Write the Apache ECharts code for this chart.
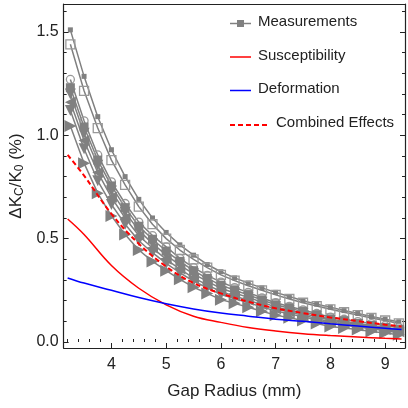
<!DOCTYPE html>
<html>
<head>
<meta charset="utf-8">
<script src="https://cdn.jsdelivr.net/npm/echarts@6/dist/echarts.min.js"></script>
<style>html,body{margin:0;padding:0;background:#fff;}#c{width:408px;height:408px;}</style>
</head>
<body>
<div id="c"></div>
<script>
// Measurement x positions (mm)
const xMeas = [3.25,3.5,3.75,4.0,4.25,4.5,4.75,5.0,5.25,5.5,5.75,6.0,6.25,6.5,6.75,7.0,7.25,7.5,7.75,8.0,8.25,8.5,8.75,9.0,9.25];
// Measurement series (%)
const meas1 = [1.51,1.285,1.09,0.93,0.80,0.69,0.60,0.53,0.47,0.42,0.375,0.34,0.31,0.285,0.262,0.24,0.22,0.2,0.183,0.168,0.152,0.138,0.123,0.11,0.098];
const meas2 = [1.44,1.215,1.035,0.88,0.76,0.655,0.57,0.5,0.445,0.4,0.36,0.325,0.297,0.272,0.25,0.228,0.208,0.19,0.174,0.158,0.144,0.13,0.116,0.104,0.09];
const meas3 = [1.27,1.07,0.905,0.775,0.67,0.58,0.515,0.46,0.405,0.36,0.322,0.29,0.263,0.24,0.213,0.19,0.172,0.155,0.138,0.12,0.11,0.099,0.089,0.079,0.07];
const meas4 = [1.23,1.04,0.88,0.755,0.65,0.56,0.497,0.44,0.39,0.345,0.308,0.275,0.25,0.228,0.203,0.18,0.163,0.147,0.13,0.11,0.101,0.09,0.08,0.07,0.06];
const meas5 = [1.2,1.01,0.855,0.73,0.628,0.54,0.477,0.42,0.372,0.33,0.293,0.26,0.237,0.216,0.192,0.17,0.154,0.138,0.122,0.105,0.096,0.085,0.075,0.065,0.055];
const meas6 = [1.16,0.975,0.82,0.70,0.6,0.515,0.455,0.40,0.353,0.31,0.276,0.245,0.222,0.202,0.18,0.16,0.145,0.13,0.114,0.097,0.088,0.078,0.069,0.06,0.05];
const meas7 = [1.12,0.935,0.78,0.665,0.57,0.49,0.432,0.38,0.335,0.295,0.262,0.23,0.21,0.19,0.17,0.15,0.136,0.122,0.106,0.09,0.082,0.073,0.064,0.055,0.045];
const meas8 = [1.045,0.865,0.72,0.61,0.52,0.445,0.39,0.345,0.303,0.265,0.235,0.205,0.187,0.168,0.149,0.13,0.117,0.104,0.09,0.075,0.068,0.06,0.051,0.043,0.035];
// Model curves
const xModel = [3.2,3.5,4.0,4.5,5.0,5.5,6.0,6.5,7.0,7.5,8.0,8.5,9.0,9.3];
const susceptibility = [0.595,0.52,0.37,0.26,0.18,0.125,0.095,0.07,0.053,0.04,0.031,0.024,0.018,0.015];
const deformation = [0.31,0.285,0.25,0.215,0.185,0.16,0.14,0.125,0.11,0.1,0.088,0.077,0.066,0.06];
const combined = [0.905,0.805,0.62,0.475,0.365,0.285,0.235,0.195,0.163,0.14,0.119,0.101,0.084,0.075];
// Ticks
const xMajorTicks = [4,5,6,7,8,9];
const xMinorTicks = [3.2,3.4,3.6,3.8,4.2,4.4,4.6,4.8,5.2,5.4,5.6,5.8,6.2,6.4,6.6,6.8,7.2,7.4,7.6,7.8,8.2,8.4,8.6,8.8,9.2];
const yMajorTicks = [0,0.5,1.0,1.5];
const yMinorTicks = [0.1,0.2,0.3,0.4,0.6,0.7,0.8,0.9,1.1,1.2,1.3,1.4,1.6];
// Legend labels
const legendNames = ['Measurements', 'Susceptibility', 'Deformation', 'Combined Effects'];

const GRAY = '#808080';
const FONT = 'Liberation Sans, Arial, sans-serif';
const pairs = (xs, ys) => xs.map((x, i) => [x, ys[i]]);

const measStyles = [
  {data: meas1, symbol: 'rect', size: 5, fill: GRAY, rot: 0},
  {data: meas2, symbol: 'rect', size: 9, fill: 'none', rot: 0},
  {data: meas3, symbol: 'circle', size: 8, fill: 'none', rot: 0},
  {data: meas4, symbol: 'rect', size: 9, fill: GRAY, rot: 0},
  {data: meas5, symbol: 'triangle', size: 11, fill: GRAY, rot: 180},
  {data: meas6, symbol: 'triangle', size: 11, fill: GRAY, rot: 90},
  {data: meas7, symbol: 'triangle', size: 11, fill: GRAY, rot: 180},
  {data: meas8, symbol: 'triangle', size: 12, fill: GRAY, rot: -90}
];

const series = measStyles.map(m => ({
  name: legendNames[0], type: 'line', data: pairs(xMeas, m.data),
  symbol: m.symbol, symbolSize: m.size, symbolRotate: m.rot, showSymbol: true,
  lineStyle: {color: GRAY, width: 1.5},
  itemStyle: m.fill === 'none'
    ? {color: 'rgba(255,255,255,0)', borderColor: '#999', borderWidth: 1.3}
    : {color: m.fill, borderWidth: 0},
  z: 2, animation: false
}));
series.push({name: legendNames[1], type: 'line', data: pairs(xModel, susceptibility), smooth: 0.4, symbol: 'none',
  lineStyle: {color: '#ff0000', width: 1.5}, z: 5, animation: false});
series.push({name: legendNames[2], type: 'line', data: pairs(xModel, deformation), smooth: 0.4, symbol: 'none',
  lineStyle: {color: '#0000ff', width: 1.5}, z: 5, animation: false});
series.push({name: legendNames[3], type: 'line', data: pairs(xModel, combined), smooth: 0.4, symbol: 'none',
  lineStyle: {color: '#ff0000', width: 2, type: [5, 3]}, z: 6, animation: false});

const XMIN = 3.127, XMAX = 9.363, YMIN = -0.029, YMAX = 1.635;
const axisLine = {show: true, onZero: false, lineStyle: {color: '#222', width: 1.2}};
const txt = (x, y, s) => ({type: 'text', left: x, top: y, style: {text: s, font: '15px ' + FONT, fill: '#222'}, z: 20});

const chart = echarts.init(document.getElementById('c'), null, {renderer: 'canvas'});
chart.setOption({
  animation: false,
  backgroundColor: '#fff',
  grid: {left: 62, right: 3, top: 4, bottom: 60},
  graphic: [
    {type: 'line', shape: {x1: 230, y1: 23.5, x2: 251, y2: 23.5}, style: {stroke: GRAY, lineWidth: 1.5}, z: 20},
    {type: 'rect', shape: {x: 237, y: 20, width: 7, height: 7}, style: {fill: GRAY}, z: 20},
    txt(258, 14, legendNames[0]),
    {type: 'line', shape: {x1: 230, y1: 57, x2: 251, y2: 57}, style: {stroke: '#ff0000', lineWidth: 1.5}, z: 20},
    txt(258, 48, legendNames[1]),
    {type: 'line', shape: {x1: 230, y1: 90.5, x2: 251, y2: 90.5}, style: {stroke: '#0000ff', lineWidth: 1.5}, z: 20},
    txt(258, 81, legendNames[2]),
    {type: 'line', shape: {x1: 230, y1: 125, x2: 267, y2: 125}, style: {stroke: '#ff0000', lineWidth: 2, lineDash: [5, 3]}, z: 20},
    txt(276, 115, legendNames[3])
  ],
  xAxis: [
    {type: 'value', min: XMIN, max: XMAX, position: 'bottom', axisLine: axisLine,
     splitLine: {show: false},
     axisTick: {show: true, inside: true, length: 5, customValues: xMajorTicks, lineStyle: {color: '#222'}},
     axisLabel: {customValues: xMajorTicks, margin: 9, fontFamily: FONT, fontSize: 16, color: '#222',
       formatter: v => String(Math.round(v))},
     name: 'Gap Radius (mm)', nameLocation: 'middle', nameGap: 35,
     nameTextStyle: {fontFamily: FONT, fontSize: 17, color: '#222'}},
    {type: 'value', min: XMIN, max: XMAX, position: 'bottom', axisLine: {show: false},
     splitLine: {show: false},
     axisTick: {show: true, inside: true, length: 3, customValues: xMinorTicks, lineStyle: {color: '#222'}},
     axisLabel: {show: false}},
    {type: 'value', min: XMIN, max: XMAX, position: 'top', axisLine: axisLine,
     splitLine: {show: false}, axisTick: {show: false}, axisLabel: {show: false}}
  ],
  yAxis: [
    {type: 'value', min: YMIN, max: YMAX, position: 'left', axisLine: axisLine,
     splitLine: {show: false},
     axisTick: {show: true, inside: true, length: 5, customValues: yMajorTicks, lineStyle: {color: '#222'}},
     axisLabel: {customValues: yMajorTicks, margin: 5, fontFamily: FONT, fontSize: 16, color: '#222',
       formatter: v => v.toFixed(1)},
     name: '{a|ΔK}{s|C}{a|/K}{s|0}{a| (%)}', nameLocation: 'middle', nameGap: 37, nameRotate: 90,
     nameTextStyle: {rich: {
       a: {fontFamily: FONT, fontSize: 17, color: '#222'},
       s: {fontFamily: FONT, fontSize: 12, color: '#222', verticalAlign: 'bottom', padding: [6, 0, 0, 0]}
     }}},
    {type: 'value', min: YMIN, max: YMAX, position: 'left', axisLine: {show: false}, splitLine: {show: false},
     axisTick: {show: true, inside: true, length: 3, customValues: yMinorTicks, lineStyle: {color: '#222'}},
     axisLabel: {show: false}},
    {type: 'value', min: YMIN, max: YMAX, position: 'right', axisLine: axisLine, splitLine: {show: false},
     axisTick: {show: true, inside: true, length: 5, customValues: yMajorTicks, lineStyle: {color: '#222'}},
     axisLabel: {show: false}},
    {type: 'value', min: YMIN, max: YMAX, position: 'right', axisLine: {show: false}, splitLine: {show: false},
     axisTick: {show: true, inside: true, length: 3, customValues: yMinorTicks, lineStyle: {color: '#222'}},
     axisLabel: {show: false}}
  ],
  series: series
});
</script>
</body>
</html>
